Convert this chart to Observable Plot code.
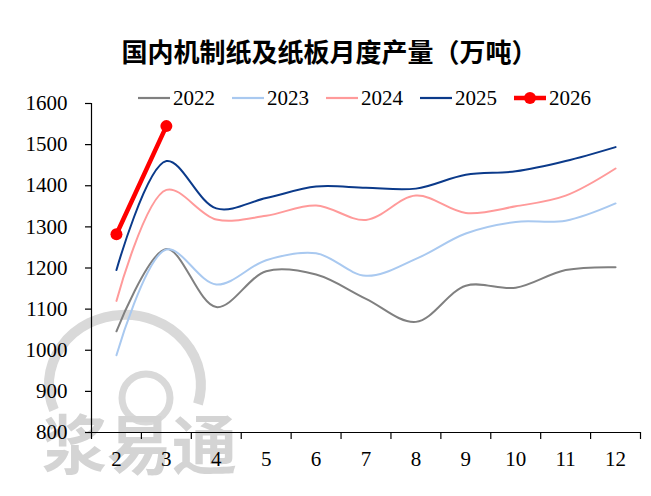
<!DOCTYPE html>
<html>
<head>
<meta charset="utf-8">
<script src="https://cdn.jsdelivr.net/npm/d3@7"></script>
<script src="https://cdn.jsdelivr.net/npm/@observablehq/plot@0.6"></script>
<style>
  html, body { margin: 0; padding: 0; background: #fff; }
  #chart { position: relative; width: 651px; height: 496px; overflow: hidden; }
  #title {
    position: absolute; left: 0; top: 0; width: 651px; height: 80px;
    display: flex; align-items: center; justify-content: center;
    padding-top: 20px; padding-left: 8px; box-sizing: border-box;
    font-family: "Noto Sans CJK SC", sans-serif; font-weight: bold; font-size: 26px; color: #000;
  }
  #wm { position: absolute; left: 0; top: 0; z-index: 0; }
  #plot { position: absolute; left: 0; top: 80px; z-index: 1; }
  #legend { position: absolute; left: 0; top: 86px; z-index: 2; width: 651px; height: 24px; }
  .item { position: absolute; top: 0; display: flex; align-items: center; height: 24px;
          font-family: "Liberation Serif", "Times New Roman", serif; font-size: 21px; color: #000; }
  .item svg { margin-right: 3px; }
</style>
</head>
<body>
<div id="chart">
  <svg id="wm" width="651" height="496">
    <path d="M54,410 A76,70 0 1 1 198,404" fill="none" stroke="#d9d9d9" stroke-width="10"/>
    <circle cx="146" cy="398" r="24" fill="none" stroke="#d9d9d9" stroke-width="7"/>
    <text x="42" y="441" dominant-baseline="central" font-family="Noto Sans CJK SC, sans-serif"
          font-weight="bold" font-size="65" fill="#d4d4d4">浆易通</text>
  </svg>
  <div id="title">国内机制纸及纸板月度产量（万吨）</div>
  <div id="plot"></div>
  <div id="legend"></div>
</div>
<script>
// Months shown on the x axis
const months = [2, 3, 4, 5, 6, 7, 8, 9, 10, 11, 12];

// Monthly output (10k tonnes) by year
const v2022 = [1046, 1246, 1105, 1192, 1184, 1125, 1069, 1157, 1152, 1195, 1202];
const v2023 = [988, 1245, 1160, 1219, 1236, 1181, 1222, 1284, 1312, 1315, 1357];
const v2024 = [1120, 1390, 1318, 1327, 1352, 1317, 1376, 1334, 1350, 1376, 1442];
const v2025 = [1195, 1460, 1345, 1370, 1398, 1395, 1393, 1427, 1435, 1460, 1494];
const v2026 = [1282, 1545];

const years = ["2022", "2023", "2024", "2025", "2026"];
const colors = ["#808080", "#a9c9f0", "#ff9a9a", "#0b3a8a", "#ff0000"];
const yTicks = [800, 900, 1000, 1100, 1200, 1300, 1400, 1500, 1600];

const series = [v2022, v2023, v2024, v2025, v2026];
const rows = series.flatMap((vals, i) =>
  vals.map((v, j) => ({year: years[i], month: months[j], value: v})));
const past = rows.filter(d => d.year !== "2026");
const current = rows.filter(d => d.year === "2026");
const bounds = d3.range(months[0] - 0.5, months[months.length - 1] + 1, 1);

const serif = "Liberation Serif, Times New Roman, serif";

const chart = Plot.plot({
  width: 651,
  height: 416,
  marginLeft: 91,
  marginRight: 11,
  marginTop: 23,
  marginBottom: 64,
  style: {background: "transparent", fontFamily: serif, fontSize: "21px", color: "#000"},
  x: {domain: [1.5, 12.5]},
  y: {domain: [800, 1600]},
  color: {domain: years, range: colors},
  marks: [
    Plot.axisY({ticks: yTicks, tickSize: 6, tickPadding: 18, tickFormat: d => String(d), label: null, stroke: "#000", strokeWidth: 1.2}),
    Plot.axisX({ticks: bounds, tickSize: 7, tickFormat: () => "", label: null, stroke: "#000", strokeWidth: 1.2}),
    Plot.axisX({ticks: months, tickSize: 0, tickPadding: 19, tickFormat: d => String(d), label: null}),
    Plot.ruleX([1.5], {y1: 800, y2: 1600, stroke: "#000", strokeWidth: 1.2}),
    Plot.ruleY([800], {stroke: "#000", strokeWidth: 1.2}),
    Plot.line(past, {x: "month", y: "value", z: "year", stroke: "year", strokeWidth: 2, curve: "catmull-rom"}),
    Plot.line(current, {x: "month", y: "value", stroke: "year", strokeWidth: 4.5}),
    Plot.dot(current, {x: "month", y: "value", fill: "year", r: 6})
  ]
});
document.getElementById("plot").appendChild(chart);

// Legend row: line swatches, with a marker on the current year
const legend = document.getElementById("legend");
years.forEach((y, i) => {
  const item = document.createElement("div");
  item.className = "item";
  item.style.left = (138 + i * 94) + "px";
  const isCurrent = y === "2026";
  item.innerHTML =
    `<svg width="32" height="14"><line x1="0" x2="32" y1="7" y2="7" stroke="${colors[i]}" stroke-width="${isCurrent ? 4.5 : 2.2}"/>` +
    (isCurrent ? `<circle cx="16" cy="7" r="6" fill="${colors[i]}"/>` : "") +
    `</svg><span>${y}</span>`;
  legend.appendChild(item);
});
</script>
</body>
</html>
